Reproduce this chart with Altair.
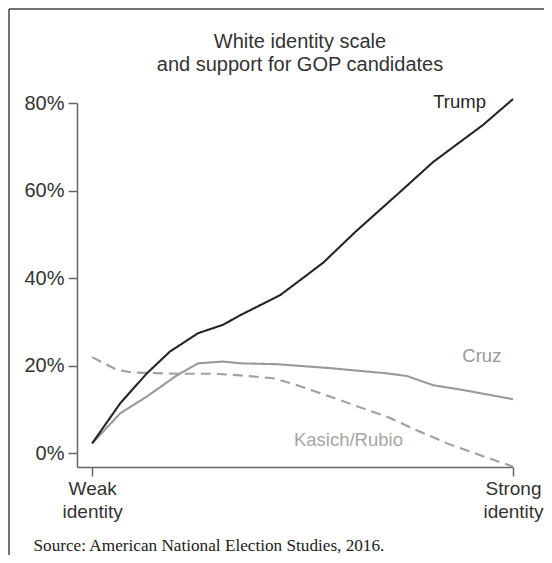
import altair as alt
import pandas as pd

# ---- data ----
series_names = ["Kasich/Rubio", "Cruz", "Trump"]
series_colors = ["#a0a0a0", "#999999", "#262626"]

trump_x = [0, 0.067, 0.13, 0.185, 0.252, 0.311, 0.352, 0.447, 0.494, 0.549, 0.625, 0.732, 0.81, 0.929, 1.0]
trump_y = [2.2, 11.4, 18.2, 23.2, 27.4, 29.3, 31.5, 36.1, 39.5, 43.5, 50.5, 59.7, 66.5, 75.0, 80.9]

cruz_x = [0, 0.067, 0.13, 0.202, 0.252, 0.311, 0.352, 0.439, 0.565, 0.644, 0.701, 0.748, 0.81, 0.881, 1.0]
cruz_y = [2.2, 9.1, 12.9, 17.8, 20.5, 20.9, 20.5, 20.3, 19.4, 18.7, 18.2, 17.6, 15.5, 14.4, 12.3]

kasich_x = [0, 0.059, 0.097, 0.209, 0.287, 0.344, 0.43, 0.487, 0.565, 0.644, 0.701, 0.762, 0.843, 0.922, 1.0]
kasich_y = [21.9, 19.0, 18.4, 18.1, 18.1, 17.8, 17.1, 15.5, 12.9, 10.2, 8.3, 5.6, 2.2, -0.5, -3.1]

label_text = ["Trump", "Cruz", "Kasich/Rubio"]
label_x = [0.873, 0.926, 0.609]
label_y = [80.2, 22.2, 3.0]
label_color = ["#262626", "#9a9a9a", "#a6a6a6"]

y_ticks = [0, 20, 40, 60, 80]
x_ticks = [0, 1]
title_lines = ["White identity scale", "and support for GOP candidates"]
source_text = "Source: American National Election Studies, 2016."

# ---- tables ----
rows = []
for name, xs, ys in [("Kasich/Rubio", kasich_x, kasich_y), ("Cruz", cruz_x, cruz_y), ("Trump", trump_x, trump_y)]:
    for xv, yv in zip(xs, ys):
        rows.append({"x": xv, "value": yv, "series": name})
df = pd.DataFrame(rows)
labels_df = pd.DataFrame({"x": label_x, "value": label_y, "text": label_text, "color": label_color})

xscale = alt.Scale(domain=[-0.036, 1.0], nice=False, zero=False)
yscale = alt.Scale(domain=[-3.2, 80], nice=False, zero=False)

lines = alt.Chart(df).mark_line(strokeWidth=2.1).encode(
    x=alt.X("x:Q", scale=xscale,
            axis=alt.Axis(values=x_ticks,
                          labelExpr="datum.value == 0 ? ['Weak', 'identity'] : ['Strong', 'identity']",
                          labelFontSize=19, labelLineHeight=23, labelColor="#333333",
                          labelFont="Liberation Sans", labelPadding=3, labelAlign="center",
                          labelBaseline="top", labelFlush=False, labelOverlap=False,
                          tickSize=9, tickColor="#666666", tickWidth=1.5,
                          domainColor="#666666", domainWidth=1.5, grid=False,
                          title=source_text, titleFont="Liberation Serif", titleFontSize=17.2,
                          titleFontWeight="normal", titleColor="#222222",
                          titleX=-44, titleY=83, titleAlign="left", titleAnchor="start",
                          titleBaseline="alphabetic")),
    y=alt.Y("value:Q", scale=yscale,
            axis=alt.Axis(values=y_ticks, labelExpr="datum.value + '%'",
                          labelFontSize=20, labelColor="#333333", labelFont="Liberation Sans",
                          labelPadding=4, tickSize=9, tickColor="#666666", tickWidth=1.5,
                          domainColor="#666666", domainWidth=1.5, grid=False, title=None)),
    color=alt.Color("series:N", scale=alt.Scale(domain=series_names, range=series_colors), legend=None),
    strokeDash=alt.StrokeDash("series:N", scale=alt.Scale(domain=series_names, range=[[10, 6], [1, 0], [1, 0]]), legend=None),
)

texts = alt.Chart(labels_df).mark_text(fontSize=18.5, font="Liberation Sans", align="center", baseline="middle").encode(
    x=alt.X("x:Q", scale=xscale),
    y=alt.Y("value:Q", scale=yscale),
    text="text:N",
    color=alt.Color("color:N", scale=None),
)

frame_df = pd.DataFrame({"k": [0]})
left_border = alt.Chart(frame_df).mark_rule(color="#444444", strokeWidth=1.5).encode(
    x=alt.value(-68), y=alt.value(-94), y2=alt.value(452))
top_border = alt.Chart(frame_df).mark_rule(color="#444444", strokeWidth=1.5).encode(
    x=alt.value(-68), x2=alt.value(467), y=alt.value(-94))

chart = alt.layer(lines, texts, left_border, top_border).properties(
    width=436, height=364,
    title=alt.TitleParams(text=title_lines, fontSize=20, font="Liberation Sans", fontWeight="normal",
                          color="#333333", lineHeight=23, anchor="middle", dx=5, offset=-67),
    autosize=alt.AutoSizeParams(type="none"),
    padding={"left": 69, "top": 95, "right": 31, "bottom": 88},
    background="white",
).configure_view(stroke=None)

chart.save("out.html", embed_options={"renderer": "svg", "actions": False})
